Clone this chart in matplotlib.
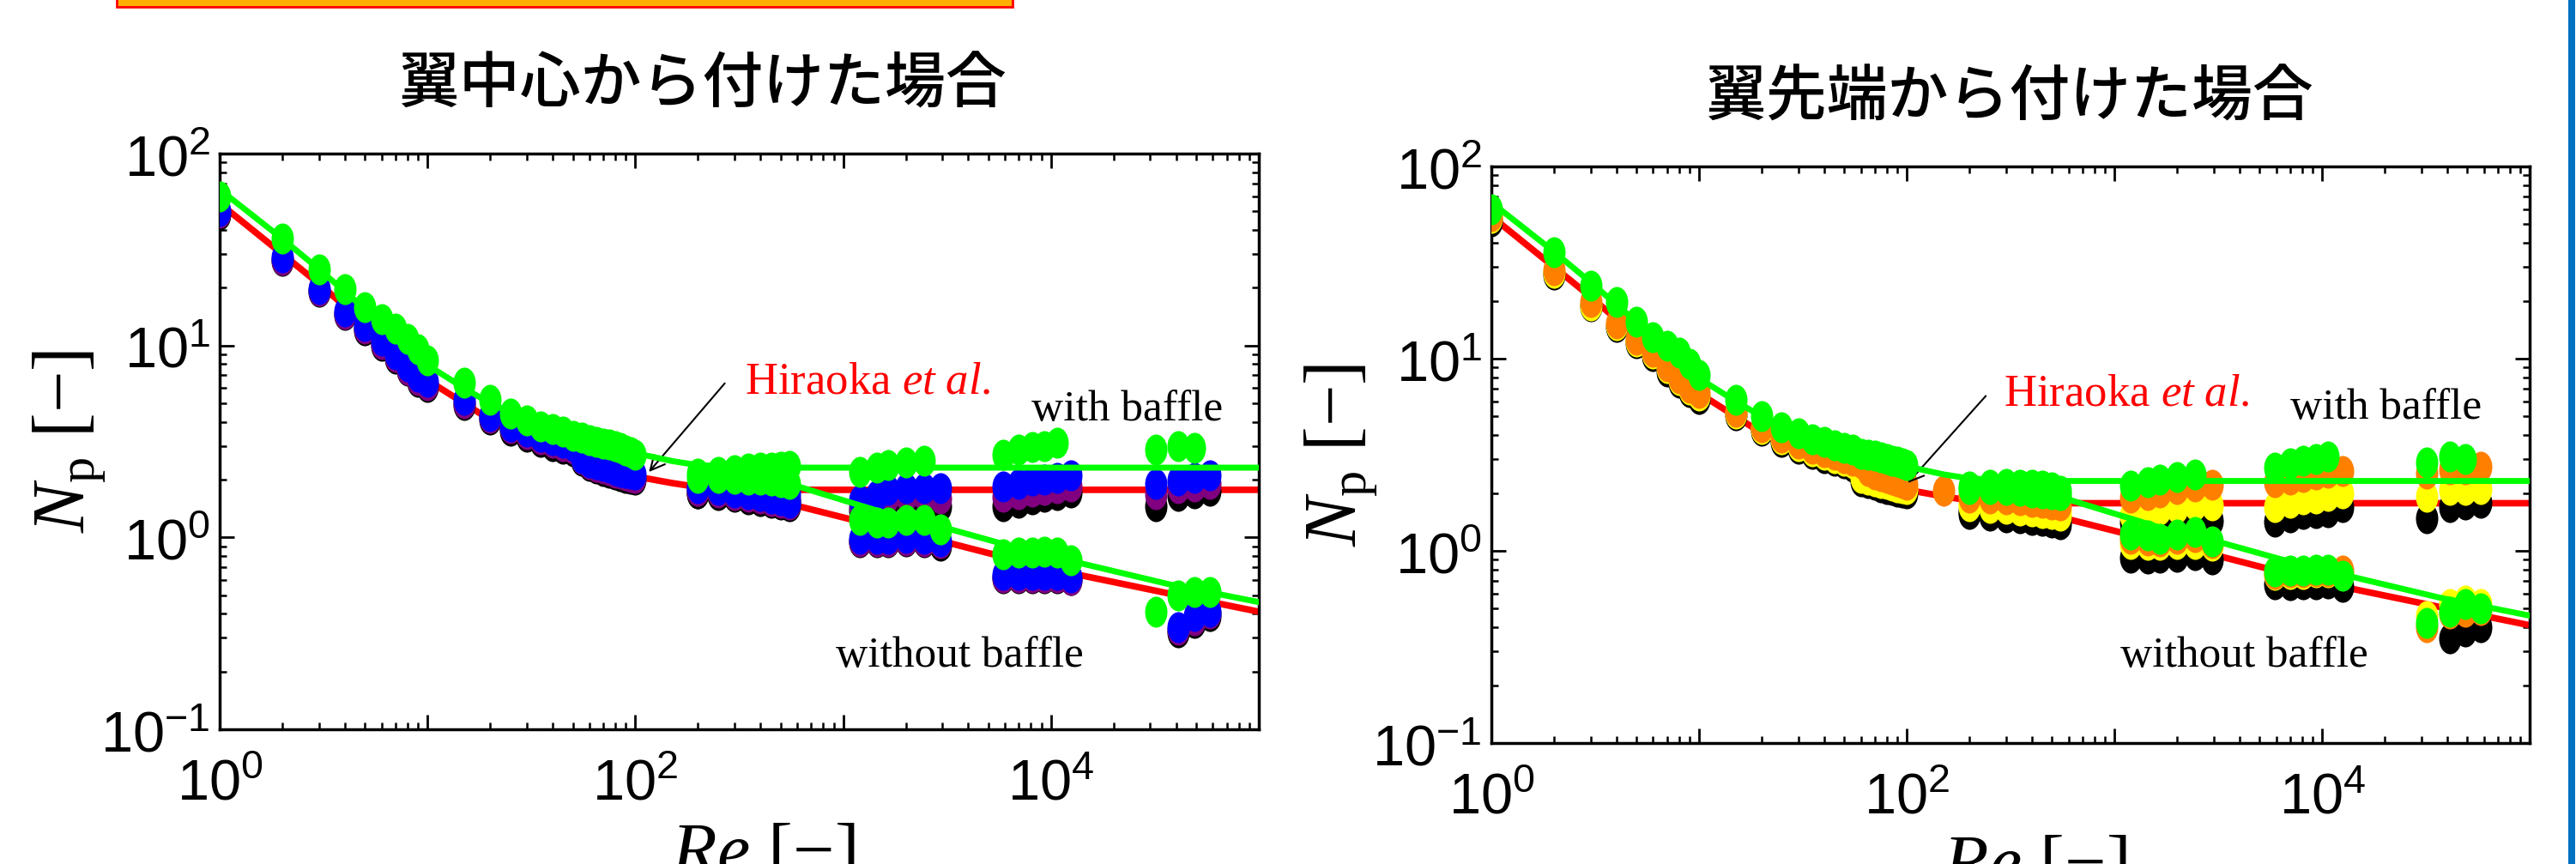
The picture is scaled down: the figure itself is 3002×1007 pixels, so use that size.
import numpy as np
import matplotlib
matplotlib.use("Agg")
import matplotlib.pyplot as plt
import matplotlib.transforms as mtransforms
from matplotlib.path import Path
from matplotlib.patches import Rectangle
from matplotlib.ticker import LogLocator, FuncFormatter, NullFormatter

plt.rcParams["mathtext.fontset"] = "custom"
plt.rcParams["mathtext.rm"] = "Liberation Serif"
plt.rcParams["mathtext.it"] = "Liberation Serif:italic"
plt.rcParams["mathtext.sf"] = "Liberation Sans"

nan = np.nan

# correlation lines (Hiraoka et al.): red = lower set, green = upper set
LINE_RE_LOW = [1, 2, 3, 5, 7, 10, 15, 20, 30, 50, 70, 100, 150, 200]
RED_LOW = [55, 30, 21, 13, 9.2, 6.6, 5.0, 4.1, 3.25, 2.6, 2.3, 2.08, 1.92, 1.83]
GREEN_LOW = [65, 36, 25, 15.5, 11, 7.9, 6.0, 5.0, 4.1, 3.3, 3.0, 2.75, 2.5, 2.38]
LINE_RE_WITH = [200, 400, 100000]
RED_WITH = [1.83, 1.77, 1.77]
GREEN_WITH = [2.38, 2.31, 2.31]
LINE_RE_WITHOUT = [200, 600, 1700, 3300, 6200, 13400, 37000, 100000]
RED_WITHOUT = [1.83, 1.46, 1.10, 0.93, 0.78, 0.64, 0.51, 0.41]
GREEN_WITHOUT = [2.38, 1.85, 1.31, 1.1, 0.91, 0.74, 0.57, 0.46]

# measured points
RE_LOW = [1, 2, 3, 4, 5, 6, 7, 8, 9, 10, 15, 20, 25, 30, 35, 40, 45, 50,
          55, 60, 65, 70, 75, 80, 85, 90, 95, 100]
RE_HIGH = [150, 200, 250, 300, 350, 400, 450, 500, 550,
           1200, 1450, 1650, 2000, 2450, 2950,
           5900, 7000, 8100, 9300, 10700, 12500,
           32000, 41000, 49000, 58000]

LEFT_BLACK_LOW = [48, 27.5, 19, 14.4, 12.0, 10.0, 8.5, 7.4, 6.5, 6.1, 4.9, 4.1, 3.6, 3.35,
                  3.15, 3.0, 2.9, 2.8, 2.5, 2.35, 2.28, 2.22, 2.17, 2.12, 2.08, 2.05, 2.02, 2.0]
LEFT_PURPLE_LOW = [49, 28, 19.2, 14.6, 12.2, 10.2, 8.7, 7.5, 6.6, 6.2, 5.0, 4.2, 3.7, 3.45,
                   3.25, 3.1, 3.0, 2.9, 2.55, 2.4, 2.33, 2.28, 2.23, 2.18, 2.14, 2.1, 2.07, 2.04]
LEFT_BLUE_LOW = [50, 28.8, 19.7, 15, 12.6, 10.6, 9.0, 7.8, 6.9, 6.5, 5.2, 4.3, 3.8, 3.55,
                 3.35, 3.2, 3.1, 3.0, 2.6, 2.45, 2.4, 2.35, 2.3, 2.25, 2.2, 2.17, 2.14, 2.12]
LEFT_GREEN_LOW = [60, 36, 25, 19.7, 15.8, 13.7, 12.2, 10.8, 9.6, 8.4, 6.4, 5.2, 4.4, 4.07,
                  3.8, 3.67, 3.55, 3.38, 3.3, 3.2, 3.15, 3.09, 3.04, 2.99, 2.92, 2.84, 2.78, 2.7]

LEFT_BLACK_WITH = [nan, 1.7, 1.68, 1.66, 1.64, 1.62, 1.6, 1.58, 1.55,
                   1.38, 1.48, 1.55, 1.58, 1.55, 1.46,
                   1.46, 1.52, 1.58, 1.62, 1.66, 1.72,
                   1.46, 1.65, 1.7, 1.75]
LEFT_BLACK_WITHOUT = [nan, 1.7, 1.66, 1.62, 1.58, 1.55, 1.51, 1.48, 1.45,
                      0.94, 0.94, 0.94, 0.95, 0.94, 0.91,
                      0.61, 0.61, 0.61, 0.61, 0.61, 0.6,
                      nan, 0.32, 0.36, 0.39]
LEFT_PURPLE_WITH = [nan, 1.75, 1.73, 1.7, 1.68, 1.66, 1.64, 1.62, 1.6,
                    1.45, 1.55, 1.62, 1.65, 1.65, 1.6,
                    1.62, 1.68, 1.73, 1.77, 1.8, 1.85,
                    1.68, 1.8, 1.85, 1.9]
LEFT_PURPLE_WITHOUT = [nan, 1.75, 1.71, 1.67, 1.63, 1.59, 1.55, 1.51, 1.48,
                       0.95, 0.95, 0.95, 0.96, 0.95, 0.93,
                       0.62, 0.62, 0.62, 0.62, 0.62, 0.6,
                       nan, 0.33, 0.37, 0.4]
LEFT_BLUE_WITH = [nan, 1.85, 1.83, 1.8, 1.78, 1.76, 1.74, 1.72, 1.7,
                  1.56, 1.67, 1.76, 1.8, 1.8, 1.8,
                  1.85, 1.9, 1.98, 2.0, 2.05, 2.1,
                  1.9, 1.98, 2.05, 2.1]
LEFT_BLUE_WITHOUT = [nan, 1.8, 1.76, 1.72, 1.68, 1.64, 1.6, 1.56, 1.52,
                     0.98, 0.98, 0.98, 0.99, 0.98, 0.95,
                     0.64, 0.64, 0.64, 0.64, 0.64, 0.62,
                     nan, 0.34, 0.39, 0.41]
LEFT_GREEN_WITH = [nan, 2.15, 2.2, 2.25, 2.28, 2.3, 2.32, 2.33, 2.35,
                   2.19, 2.31, 2.38, 2.45, 2.5, nan,
                   2.7, 2.86, 2.95, 3.0, 3.1, nan,
                   2.86, 3.0, 2.93, nan]
LEFT_GREEN_WITHOUT = [nan, 2.05, 2.05, 2.03, 2.0, 2.0, 1.97, 1.93, 1.9,
                      1.23, 1.19, 1.19, 1.23, 1.23, 1.1,
                      0.82, 0.83, 0.83, 0.84, 0.83, 0.76,
                      0.41, 0.5, 0.52, 0.52]

RIGHT_BLACK_LOW = [52, 27.5, 18.7, 14.6, 12.0, 10.3, 8.6, 7.5, 6.7, 6.2, 5.1, 4.2, 3.7, 3.4,
                   3.2, 3.05, 2.95, 2.85, 2.75, 2.3, 2.25, 2.2, 2.15, 2.1, 2.07, 2.04, 2.02, 2.0]
RIGHT_YELLOW_LOW = [54, 28, 19, 15, 12.3, 10.6, 8.9, 7.7, 6.9, 6.4, 5.2, 4.3, 3.8, 3.5,
                    3.3, 3.15, 3.05, 2.95, 2.85, 2.4, 2.35, 2.3, 2.25, 2.22, 2.18, 2.15, 2.12, 2.1]
RIGHT_ORANGE_LOW = [55, 28.8, 19.7, 15.3, 12.6, 10.9, 9.1, 7.9, 7.05, 6.6, 5.3, 4.4, 3.9, 3.6,
                    3.4, 3.25, 3.15, 3.05, 2.95, 2.85, 2.6, 2.5, 2.45, 2.4, 2.35, 2.3, 2.25, 2.2]
RIGHT_GREEN_LOW = [60, 35.8, 24, 19.7, 15.6, 13, 11.7, 10.7, 9.4, 8.2, 6.1, 5.0, 4.4, 4.1,
                   3.8, 3.68, 3.55, 3.43, 3.35, 3.19, 3.15, 3.13, 3.08, 3.0, 2.95, 2.9, 2.86, 2.8]

RIGHT_BLACK_WITH = [nan, 1.6, 1.58, 1.56, 1.55, 1.53, 1.5, 1.48, 1.46,
                    1.4, 1.42, 1.44, 1.45, 1.47, 1.44,
                    1.42, 1.5, 1.55, 1.57, 1.59, 1.69,
                    1.48, 1.69, 1.75, 1.78]
RIGHT_BLACK_WITHOUT = [nan, 1.55, 1.53, 1.5, 1.48, 1.45, 1.43, 1.4, 1.38,
                       0.92, 0.91, 0.92, 0.93, 0.95, 0.9,
                       0.67, 0.66, 0.67, 0.67, 0.68, 0.65,
                       nan, 0.35, 0.38, 0.40]
RIGHT_YELLOW_WITH = [nan, 1.75, 1.75, 1.73, 1.72, 1.7, 1.68, 1.66, 1.62,
                     1.53, 1.59, 1.64, 1.68, 1.73, 1.73,
                     1.69, 1.78, 1.85, 1.88, 1.93, 2.0,
                     1.91, 2.08, 2.08, 2.1]
RIGHT_YELLOW_WITHOUT = [nan, 1.7, 1.68, 1.65, 1.63, 1.6, 1.58, 1.55, 1.52,
                        1.09, 1.08, 1.08, 1.09, 1.09, 1.06,
                        0.75, 0.76, 0.76, 0.77, 0.77, 0.75,
                        0.46, 0.53, 0.55, 0.53]
RIGHT_ORANGE_WITH = [2.05, 1.95, 1.97, 1.97, 1.95, 1.93, 1.9, 1.88, 1.85,
                     1.9, 1.96, 2.02, 2.09, 2.16, 2.2,
                     2.27, 2.35, 2.43, 2.5, 2.56, 2.6,
                     2.52, 2.65, 2.65, 2.75]
RIGHT_ORANGE_WITHOUT = [nan, 1.9, 1.88, 1.85, 1.83, 1.8, 1.78, 1.75, 1.72,
                        1.15, 1.13, 1.12, 1.15, 1.18, 1.1,
                        0.76, 0.77, 0.77, 0.78, 0.78, 0.79,
                        0.40, 0.47, 0.48, 0.49]
RIGHT_GREEN_WITH = [nan, 2.16, 2.2, 2.23, 2.2, 2.2, 2.18, 2.15, 2.05,
                    2.18, 2.28, 2.35, 2.42, 2.5, nan,
                    2.7, 2.84, 2.95, 3.02, 3.1, nan,
                    2.88, 3.1, 3.0, nan]
RIGHT_GREEN_WITHOUT = [nan, 2.1, 2.1, 2.08, 2.05, 2.02, 2.0, 1.98, 1.95,
                       1.22, 1.2, 1.16, 1.22, 1.25, 1.12,
                       0.78, 0.79, 0.79, 0.8, 0.8, 0.74,
                       0.42, 0.48, 0.53, 0.5]

LEFT_SERIES = [
    ("black", LEFT_BLACK_LOW, LEFT_BLACK_WITH, LEFT_BLACK_WITHOUT),
    ("#800080", LEFT_PURPLE_LOW, LEFT_PURPLE_WITH, LEFT_PURPLE_WITHOUT),
    ("#0000FF", LEFT_BLUE_LOW, LEFT_BLUE_WITH, LEFT_BLUE_WITHOUT),
    ("#00FF00", LEFT_GREEN_LOW, LEFT_GREEN_WITH, LEFT_GREEN_WITHOUT),
]
RIGHT_SERIES = [
    ("black", RIGHT_BLACK_LOW, RIGHT_BLACK_WITH, RIGHT_BLACK_WITHOUT),
    ("#FFFF00", RIGHT_YELLOW_LOW, RIGHT_YELLOW_WITH, RIGHT_YELLOW_WITHOUT),
    ("#FF8000", RIGHT_ORANGE_LOW, RIGHT_ORANGE_WITH, RIGHT_ORANGE_WITHOUT),
    ("#00FF00", RIGHT_GREEN_LOW, RIGHT_GREEN_WITH, RIGHT_GREEN_WITHOUT),
]

# dots in the original are stretched vertically
DOT = Path.unit_circle().transformed(mtransforms.Affine2D().scale(0.72, 1.0))

SERIF = "Liberation Serif"
CJK = ["Noto Sans CJK JP", "DejaVu Sans"]


def tick_label(v, pos):
    e = int(round(np.log10(v)))
    return r"$\mathsf{10^{%d}}$" % e


def x_tick_label(v, pos):
    e = int(round(np.log10(v)))
    if e % 2:
        return ""
    return r"$\mathsf{10^{%d}}$" % e


def draw_panel(ax, series, hira_xy, arrow_tail, arrow_head, with_xy, without_xy):
    ax.plot(LINE_RE_LOW, RED_LOW, color="#FF0000", lw=5.5, zorder=2)
    ax.plot(LINE_RE_WITH, RED_WITH, color="#FF0000", lw=5.5, zorder=2)
    ax.plot(LINE_RE_WITHOUT, RED_WITHOUT, color="#FF0000", lw=5.5, zorder=2)

    for color, low, with_b, without_b in series:
        z = 4 if color == "#00FF00" else 3
        for re_vals, np_vals in ((RE_LOW, low), (RE_HIGH, without_b), (RE_HIGH, with_b)):
            ax.plot(re_vals, np_vals, linestyle="none", marker=DOT, markersize=26,
                    color=color, markeredgewidth=0, zorder=z)

    ax.plot(LINE_RE_LOW, GREEN_LOW, color="#00FF00", lw=5, zorder=3.5)
    ax.plot(LINE_RE_WITH, GREEN_WITH, color="#00FF00", lw=5, zorder=3.5)
    ax.plot(LINE_RE_WITHOUT, GREEN_WITHOUT, color="#00FF00", lw=5, zorder=3.5)

    ax.set_xscale("log")
    ax.set_yscale("log")
    ax.set_xlim(1, 1e5)
    ax.set_ylim(0.1, 100)

    ax.xaxis.set_major_locator(LogLocator(base=10, numticks=10))
    ax.yaxis.set_major_locator(LogLocator(base=10, numticks=10))
    ax.xaxis.set_minor_locator(LogLocator(base=10, subs=np.arange(2, 10), numticks=20))
    ax.yaxis.set_minor_locator(LogLocator(base=10, subs=np.arange(2, 10), numticks=20))
    ax.xaxis.set_major_formatter(FuncFormatter(x_tick_label))
    ax.yaxis.set_major_formatter(FuncFormatter(tick_label))
    ax.xaxis.set_minor_formatter(NullFormatter())
    ax.yaxis.set_minor_formatter(NullFormatter())

    ax.tick_params(which="both", direction="in", top=True, right=True, colors="black")
    ax.tick_params(which="major", length=12, width=2)
    ax.tick_params(which="minor", length=6, width=1.8)
    ax.tick_params(axis="x", which="major", labelsize=48, pad=22)
    ax.tick_params(axis="y", which="major", labelsize=48, pad=8)
    for s in ax.spines.values():
        s.set_linewidth(2.5)

    ax.text(-0.145, 0.5, r"$N_\mathrm{p}$ [−]", transform=ax.transAxes, rotation=90,
            ha="center", va="center", fontsize=62, family=SERIF)

    ax.text(hira_xy[0], hira_xy[1], r"Hiraoka $\mathit{et\ al}$.", transform=ax.transAxes,
            color="#FF0000", fontsize=38, family=SERIF, va="baseline")
    ax.annotate("", xy=arrow_head, xytext=arrow_tail, xycoords="axes fraction",
                textcoords="axes fraction",
                arrowprops=dict(arrowstyle="->", color="black", lw=1.5, mutation_scale=30,
                                shrinkA=0, shrinkB=0))
    ax.text(with_xy[0], with_xy[1], "with baffle", transform=ax.transAxes,
            fontsize=37, family=SERIF, va="baseline")
    ax.text(without_xy[0], without_xy[1], "without baffle", transform=ax.transAxes,
            fontsize=37, family=SERIF, va="baseline")


fig = plt.figure(figsize=(30.02, 10.07), dpi=100)

ax1 = fig.add_axes([0.0853, 0.1559, 0.4034, 0.6663])
draw_panel(ax1, LEFT_SERIES, (0.505, 0.584), (0.486, 0.601), (0.413, 0.447),
           (0.781, 0.537), (0.593, 0.109))
ax2 = fig.add_axes([0.5790, 0.1400, 0.4031, 0.6673])
draw_panel(ax2, RIGHT_SERIES, (0.493, 0.585), (0.476, 0.602), (0.401, 0.451),
           (0.769, 0.5625), (0.606, 0.132))

fig.text(0.2728, 0.9007, "翼中心から付けた場合", ha="center", va="center",
         fontsize=51, family=CJK, weight="medium")
fig.text(0.7802, 0.8858, "翼先端から付けた場合", ha="center", va="center",
         fontsize=51, family=CJK, weight="medium")

fig.text(0.2962, -0.012, r"$Re$ [−]", ha="center", va="baseline", fontsize=62, family=SERIF)
fig.text(0.7900, -0.026, r"$Re$ [−]", ha="center", va="baseline", fontsize=62, family=SERIF)

# slide decorations: strip of a box at the top, blue frame on the right
fig.patches.append(Rectangle((136 / 3002, 0.992), 1044 / 3002, 0.02, transform=fig.transFigure,
                             facecolor="#FFB000", edgecolor="#FF0000", lw=2))
fig.patches.append(Rectangle((2993 / 3002, 0), 8 / 3002, 1, transform=fig.transFigure,
                             facecolor="#0070C0", edgecolor="none"))

fig.savefig("out.png", dpi=100)
